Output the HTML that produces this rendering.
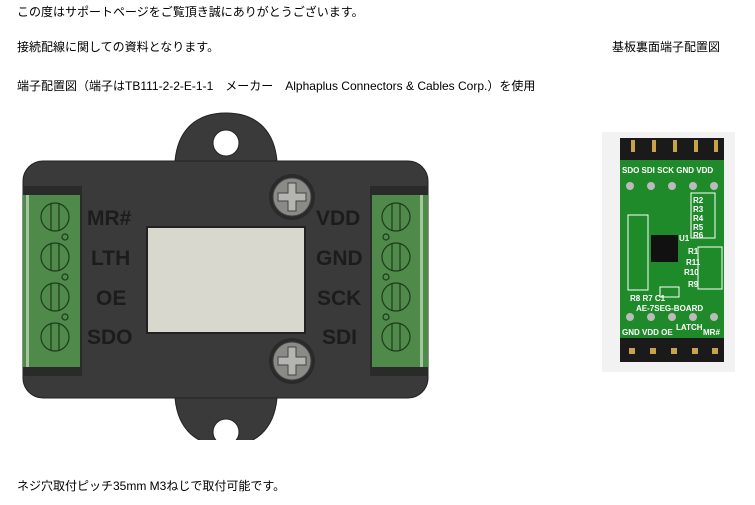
<!DOCTYPE html>
<html><head><meta charset="utf-8"><style>
html,body{margin:0;padding:0;background:#fff;width:755px;height:505px;overflow:hidden;position:relative;font-family:"Liberation Sans","Noto Sans CJK JP",sans-serif;font-size:12px;color:#000}
.t{position:absolute;white-space:nowrap;line-height:14px}
svg{position:absolute;left:0;top:0}
</style></head><body>
<div class="t" style="left:17px;top:5px">この度はサポートページをご覧頂き誠にありがとうございます。</div>
<div class="t" style="left:17px;top:40px">接続配線に関しての資料となります。</div>
<div class="t" style="left:612px;top:40px">基板裏面端子配置図</div>
<div class="t" style="left:17px;top:79px">端子配置図（端子はTB111-2-2-E-1-1　メーカー　Alphaplus Connectors &amp; Cables Corp.）を使用</div>
<div class="t" style="left:17px;top:479px">ネジ穴取付ピッチ35mm M3ねじで取付可能です。</div>
<svg width="755" height="505" viewBox="0 0 755 505" font-family="Liberation Sans, sans-serif">
<defs><clipPath id="c"><rect x="0" y="100" width="460" height="340"/></clipPath></defs>
<g clip-path="url(#c)">
<path d="M175,161 C178,128 198,113 226,113 C254,113 274,128 277,161 Z" fill="#3a3a3a" stroke="#222"/>
<path d="M175,398 C178,431 198,446 226,446 C254,446 274,431 277,398 Z" fill="#3a3a3a" stroke="#222"/>
<rect x="23" y="161" width="405" height="237" rx="20" fill="#3a3a3a" stroke="#222"/>
<circle cx="226" cy="143" r="13" fill="#fff" stroke="#222"/>
<circle cx="226" cy="432" r="13" fill="#fff" stroke="#222"/>
<rect x="23" y="186" width="59" height="190" fill="#2a2a2a"/>
<rect x="370" y="186" width="58" height="190" fill="#2a2a2a"/>
<rect x="23" y="195" width="57" height="172" fill="#4f8a4a"/>
<rect x="26" y="195" width="3" height="172" fill="#9fc79a"/>
<rect x="372" y="195" width="56" height="172" fill="#4f8a4a"/>
<rect x="420" y="195" width="3" height="172" fill="#9fc79a"/>
<g fill="none" stroke="#1e3a1c" stroke-width="1.2">
<circle cx="55" cy="217" r="14"/><circle cx="55" cy="257" r="14"/><circle cx="55" cy="297" r="14"/><circle cx="55" cy="337" r="14"/>
<circle cx="396" cy="217" r="14"/><circle cx="396" cy="257" r="14"/><circle cx="396" cy="297" r="14"/><circle cx="396" cy="337" r="14"/>
<path d="M51,203v28M59,203v28M51,243v28M59,243v28M51,283v28M59,283v28M51,323v28M59,323v28M392,203v28M400,203v28M392,243v28M400,243v28M392,283v28M400,283v28M392,323v28M400,323v28"/>
<circle cx="65" cy="237" r="3"/><circle cx="65" cy="277" r="3"/><circle cx="65" cy="317" r="3"/>
<circle cx="386" cy="237" r="3"/><circle cx="386" cy="277" r="3"/><circle cx="386" cy="317" r="3"/>
</g>
<rect x="147" y="227" width="158" height="106" fill="#d9d8cf" stroke="#222" stroke-width="2"/>
<g>
<circle cx="292" cy="197" r="23" fill="#2a2a2a"/><circle cx="292" cy="197" r="19" fill="#8a8a86" stroke="#444"/>
<path d="M288,183h8v10h10v8h-10v10h-8v-10h-10v-8h10z" fill="#b5b5b0" stroke="#444"/>
<circle cx="292" cy="361" r="23" fill="#2a2a2a"/><circle cx="292" cy="361" r="19" fill="#8a8a86" stroke="#444"/>
<path d="M288,347h8v10h10v8h-10v10h-8v-10h-10v-8h10z" fill="#b5b5b0" stroke="#444"/>
</g>
<g font-size="21" font-weight="bold" fill="#1c1c1c">
<text x="87" y="225">MR#</text><text x="91" y="265">LTH</text><text x="96" y="305">OE</text><text x="87" y="344">SDO</text>
<text x="316" y="225">VDD</text><text x="316" y="265">GND</text><text x="317" y="305">SCK</text><text x="322" y="344">SDI</text>
</g>
</g>
<rect x="602" y="132" width="133" height="240" fill="#f2f2f2"/>
<rect x="620" y="150" width="104" height="205" fill="#1f8a2a"/>
<rect x="620" y="138" width="104" height="22" fill="#1a1a1a"/>
<rect x="620" y="338" width="104" height="24" fill="#1a1a1a"/>
<g fill="#c9a24a"><rect x="631" y="140" width="4" height="12"/><rect x="652" y="140" width="4" height="12"/><rect x="673" y="140" width="4" height="12"/><rect x="694" y="140" width="4" height="12"/><rect x="714" y="140" width="4" height="12"/>
<rect x="629" y="348" width="6" height="6"/><rect x="650" y="348" width="6" height="6"/><rect x="671" y="348" width="6" height="6"/><rect x="692" y="348" width="6" height="6"/><rect x="712" y="348" width="6" height="6"/></g>
<g fill="#bbb"><circle cx="630" cy="186" r="4"/><circle cx="651" cy="186" r="4"/><circle cx="672" cy="186" r="4"/><circle cx="693" cy="186" r="4"/><circle cx="714" cy="186" r="4"/>
<circle cx="630" cy="317" r="4"/><circle cx="651" cy="317" r="4"/><circle cx="672" cy="317" r="4"/><circle cx="693" cy="317" r="4"/><circle cx="714" cy="317" r="4"/></g>
<rect x="651" y="235" width="27" height="27" fill="#111"/>
<g fill="none" stroke="#fff" stroke-width="1"><rect x="628" y="215" width="20" height="75"/><rect x="691" y="193" width="24" height="45"/><rect x="698" y="247" width="24" height="42"/><rect x="660" y="287" width="19" height="10"/></g>
<g font-size="8" fill="#fff" font-weight="bold">
<text x="622" y="173">SDO SDI SCK GND VDD</text>
<text x="693" y="203">R2</text><text x="693" y="212">R3</text><text x="693" y="221">R4</text><text x="693" y="230">R5</text><text x="693" y="238">R6</text>
<text x="679" y="241">U1</text><text x="688" y="254">R1</text><text x="686" y="265">R11</text><text x="684" y="275">R10</text><text x="688" y="287">R9</text>
<text x="630" y="301">R8 R7 C1</text><text x="636" y="311">AE-7SEG-BOARD</text>
<text x="622" y="335">GND VDD OE</text><text x="676" y="330">LATCH</text><text x="703" y="335">MR#</text>
</g>
</svg>
</body></html>
